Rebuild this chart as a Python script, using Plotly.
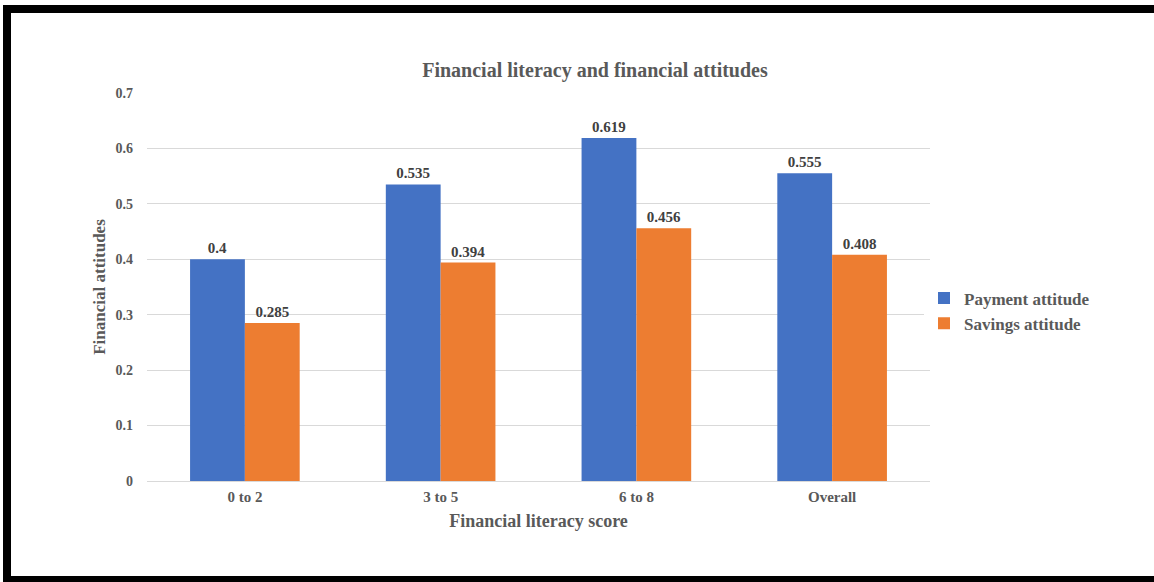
import plotly.graph_objects as go

categories = ["0 to 2", "3 to 5", "6 to 8", "Overall"]
payment = [0.4, 0.535, 0.619, 0.555]
savings = [0.285, 0.394, 0.456, 0.408]
payment_labels = ["0.4", "0.535", "0.619", "0.555"]
savings_labels = ["0.285", "0.394", "0.456", "0.408"]
y_ticks = [0, 0.1, 0.2, 0.3, 0.4, 0.5, 0.6, 0.7]
y_tick_text = ["0", "0.1", "0.2", "0.3", "0.4", "0.5", "0.6", "0.7"]

W, H = 1154, 582
L, R, T, B = 147, 930, 93, 481  # plot area pixel bounds
FONT = "Liberation Serif"
GRAY = "#595959"

def px_x(p):
    return (p - L) / (R - L)

def px_y(p):
    return (B - p) / (B - T)

def bold(s):
    return "<b>" + s + "</b>"

fig = go.Figure()
fig.add_trace(go.Bar(
    x=categories, y=payment, name=bold("Payment attitude"),
    marker=dict(color="#4472C4", line=dict(width=0)),
    text=[bold(s) for s in payment_labels], textposition="outside",
    textfont=dict(family=FONT, size=15, color="#404040"),
    cliponaxis=False,
))
fig.add_trace(go.Bar(
    x=categories, y=savings, name=bold("Savings attitude"),
    marker=dict(color="#ED7D31", line=dict(width=0)),
    text=[bold(s) for s in savings_labels], textposition="outside",
    textfont=dict(family=FONT, size=15, color="#404040"),
    cliponaxis=False,
))

shapes = []
# black frame (top, left, bottom)
for x0, y0, x1, y1 in [(3, 5, W, 13), (3, 5, 11, H), (3, 576, W, H)]:
    shapes.append(dict(type="rect", xref="paper", yref="paper",
                       x0=px_x(x0), x1=px_x(x1), y0=px_y(y0), y1=px_y(y1),
                       fillcolor="black", line=dict(width=0), layer="above"))

fig.update_layout(
    width=W, height=H,
    margin=dict(l=L, r=W - R, t=T, b=H - B, pad=0),
    paper_bgcolor="white", plot_bgcolor="white",
    barmode="group", bargap=0.44, bargroupgap=0,
    font=dict(family=FONT, color=GRAY),
    title=dict(text=bold("Financial literacy and financial attitudes"),
               x=595 / W, xanchor="center", xref="container",
               y=1 - 70 / H, yanchor="middle", yref="container",
               font=dict(family=FONT, size=20, color=GRAY)),
    xaxis=dict(
        title=dict(text=bold("Financial literacy score"),
                   font=dict(family=FONT, size=18, color=GRAY), standoff=10),
        tickfont=dict(family=FONT, size=15, color=GRAY),
        ticktext=[bold(c) for c in categories], tickvals=categories,
        showline=False, ticks="", showgrid=False, ticklabelstandoff=5,
    ),
    yaxis=dict(
        title=dict(text=bold("Financial attitudes"),
                   font=dict(family=FONT, size=17, color=GRAY), standoff=5),
        range=[0, 0.7], tickvals=y_ticks,
        ticktext=[bold(t) for t in y_tick_text],
        tickfont=dict(family=FONT, size=14, color=GRAY),
        showgrid=True, gridcolor="#D9D9D9", gridwidth=1,
        zeroline=True, zerolinecolor="#D9D9D9", zerolinewidth=1,
        showline=False, ticks="", ticklabelstandoff=13,
    ),
    legend=dict(x=px_x(924), xanchor="left", y=px_y(311), yanchor="middle",
                font=dict(family=FONT, size=17, color=GRAY),
                tracegroupgap=2, itemwidth=30, traceorder="normal"),
    shapes=shapes,
)

fig.write_html("out.html",
               config={"displayModeBar": False},
               post_script="document.body.style.margin='0';document.body.style.overflow='hidden';")
